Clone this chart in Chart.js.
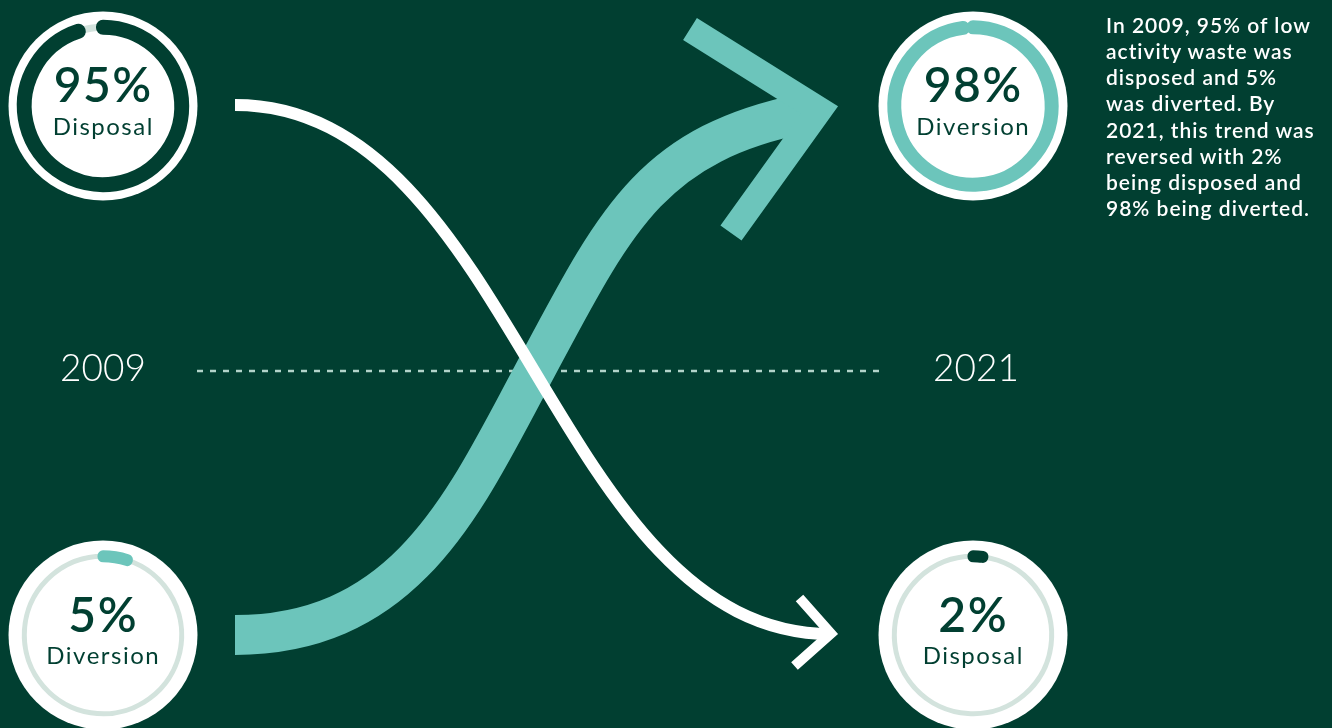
<!DOCTYPE html>
<html>
<head>
<meta charset="utf-8">
<title>Low activity waste: disposal vs diversion</title>
<script src="https://cdn.jsdelivr.net/npm/chart.js@4.4.1/dist/chart.umd.min.js"></script>
<style>
  html, body { margin: 0; padding: 0; }
  body {
    width: 1332px; height: 728px; overflow: hidden; position: relative;
    background: #013f31; font-family: Lato, 'Noto Sans', sans-serif;
  }
  canvas { position: absolute; }
  .txt { position: absolute; white-space: nowrap; }
  .pct { width: 200px; text-align: center; color: #013f31; font-size: 48px; line-height: 48px; font-weight: 600; letter-spacing: 1.5px; text-indent: 1.5px; }
  .lbl { width: 200px; text-align: center; color: #013f31; font-size: 24px; line-height: 24px; font-weight: 400; letter-spacing: 1.5px; text-indent: 1.5px; }
  .year { color: #ffffff; font-size: 37px; line-height: 37px; font-weight: 300; }
  .note { color: #ffffff; font-size: 21px; line-height: 26.2px; font-weight: 600; letter-spacing: 1px; }
</style>
</head>
<body>
<canvas id="flowChart" width="1332" height="728" style="left:0;top:0"></canvas>
<script>
// data
var years = ['2009', '2021'];
var disposalShare = [95, 2];   // % of low activity waste disposed
var diversionShare = [5, 98];  // % of low activity waste diverted
var shareLabels = ['Disposal', 'Diversion'];
var noteLines = [
  'In 2009, 95% of low',
  'activity waste was',
  'disposed and 5%',
  'was diverted. By',
  '2021, this trend was',
  'reversed with 2%',
  'being disposed and',
  '98% being diverted.',
];

var DARK = '#013f31';
var TEAL = '#6cc5bb';
var TRACK = '#d3e3dd';
var RING_MID = 78.7;

// decorative flow arrows, in page units (drawn through the chart scales)
var flowPaths = [
  {
    color : TEAL, width : 40, headWidth : 26,
    start : [235, 635],
    curves : [
      [[405, 635], [464, 503], [530, 380]],
      [[614.6, 221.6], [648, 145], [805, 113]],
    ],
    head : [[690, 29], [819.4, 110], [731, 233]],
  },
  {
    color : '#ffffff', width : 12, headWidth : 10,
    start : [235, 105],
    curves : [
      [[515, 105], [552, 634], [831, 634]],
    ],
    head : [[799.5, 598], [831, 633.5], [794.5, 666]],
  },
];
var timeline = { from : [197, 371], to : [880, 371] };

var flowPlugin = {
  id : 'flow',
  afterDatasetsDraw : function (chart) {
    var ctx = chart.ctx;
    var sx = chart.scales.x;
    var sy = chart.scales.y;
    function px(p) { return [sx.getPixelForValue(p[0]), sy.getPixelForValue(p[1])]; }

    ctx.save();
    // dashed timeline between the years
    var a = px(timeline.from);
    var b = px(timeline.to);
    ctx.strokeStyle = '#b3d4ca';
    ctx.lineWidth = 2.5;
    ctx.setLineDash([6, 7]);
    ctx.beginPath();
    ctx.moveTo(a[0], a[1]);
    ctx.lineTo(b[0], b[1]);
    ctx.stroke();
    ctx.setLineDash([]);

    flowPaths.forEach(function (path) {
      var s = px(path.start);
      ctx.strokeStyle = path.color;
      ctx.lineWidth = path.width;
      ctx.lineCap = 'butt';
      ctx.beginPath();
      ctx.moveTo(s[0], s[1]);
      path.curves.forEach(function (c) {
        var c1 = px(c[0]), c2 = px(c[1]), e = px(c[2]);
        ctx.bezierCurveTo(c1[0], c1[1], c2[0], c2[1], e[0], e[1]);
      });
      ctx.stroke();

      ctx.lineWidth = path.headWidth;
      ctx.lineJoin = 'miter';
      ctx.beginPath();
      path.head.forEach(function (p, i) {
        var q = px(p);
        if (i === 0) { ctx.moveTo(q[0], q[1]); } else { ctx.lineTo(q[0], q[1]); }
      });
      ctx.stroke();
    });
    ctx.restore();
  },
};

new Chart(document.getElementById('flowChart').getContext('2d'), {
  type : 'scatter',
  data : { datasets : [] },
  options : {
    responsive : false,
    animation : false,
    events : [],
    layout : { padding : 0 },
    scales : {
      x : { type : 'linear', min : 0, max : 1332, display : false },
      y : { type : 'linear', min : 0, max : 728, reverse : true, display : false },
    },
    plugins : { legend : { display : false }, tooltip : { enabled : false } },
  },
  plugins : [flowPlugin],
});

// white disc behind each ring
var discPlugin = {
  id : 'disc',
  beforeDatasetsDraw : function (chart) {
    var area = chart.chartArea;
    var ctx = chart.ctx;
    ctx.save();
    ctx.fillStyle = '#ffffff';
    ctx.beginPath();
    ctx.arc((area.left + area.right) / 2, (area.top + area.bottom) / 2, 94.5, 0, Math.PI * 2);
    ctx.fill();
    ctx.restore();
  },
};

var rings = [
  { cx : 102.5, cy : 105.5, value : disposalShare[0], label : shareLabels[0], color : DARK, width : 15, track : 7 },
  { cx : 972.5, cy : 105.5, value : diversionShare[1], label : shareLabels[1], color : TEAL, width : 14, track : 7 },
  { cx : 102.5, cy : 635, value : diversionShare[0], label : shareLabels[1], color : TEAL, width : 12, track : 5 },
  { cx : 972.5, cy : 635, value : disposalShare[1], label : shareLabels[0], color : DARK, width : 12, track : 5 },
];

function addText(cls, text, left, top) {
  var el = document.createElement('div');
  el.className = 'txt ' + cls;
  el.textContent = text;
  el.style.left = left + 'px';
  el.style.top = top + 'px';
  document.body.appendChild(el);
  return el;
}

function makeRing(spec) {
  var canvas = document.createElement('canvas');
  canvas.width = 200;
  canvas.height = 200;
  canvas.style.left = (spec.cx - 100) + 'px';
  canvas.style.top = (spec.cy - 100) + 'px';
  document.body.appendChild(canvas);

  new Chart(canvas.getContext('2d'), {
    type : 'doughnut',
    data : {
      labels : ['', spec.label],
      datasets : [{
        data : [100 - spec.value, spec.value],
        backgroundColor : [TRACK, spec.color],
        borderColor : [TRACK, spec.color],
        borderWidth : [spec.track - 1, spec.width - 1],
        borderJoinStyle : 'round',
        borderAlign : 'center',
        hoverOffset : 0,
      }],
    },
    options : {
      responsive : false,
      animation : false,
      events : [],
      rotation : spec.value * 3.6,
      radius : RING_MID + 0.5,
      cutout : ((RING_MID - 0.5) / (RING_MID + 0.5) * 100) + '%',
      layout : { padding : 0 },
      plugins : { legend : { display : false }, tooltip : { enabled : false } },
    },
    plugins : [discPlugin],
  });

  addText('pct', spec.value + '%', spec.cx - 100, spec.cy - 45.1);
  addText('lbl', spec.label, spec.cx - 100, spec.cy + 8.2);
}

rings.forEach(makeRing);

addText('year', years[0], 60, 348);
addText('year', years[1], 933, 348);

var note = addText('note', '', 1106, 11.8);
note.innerHTML = noteLines.join('<br>');
</script>
</body>
</html>
